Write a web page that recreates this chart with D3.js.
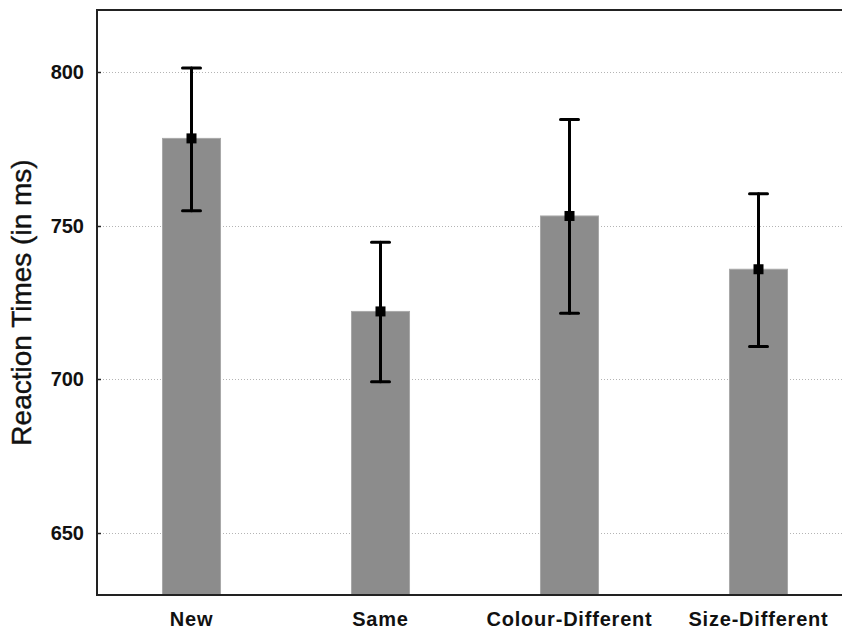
<!DOCTYPE html>
<html>
<head>
<meta charset="utf-8">
<script src="https://cdn.jsdelivr.net/npm/d3@7"></script>
<style>
  body { margin: 0; background: #fff; }
  svg { display: block; font-family: "Liberation Sans", Arial, sans-serif; }
</style>
</head>
<body>
<div id="chart"></div>
<script>
// Data
const categories = ["New", "Same", "Colour-Different", "Size-Different"];
const means = [778.3, 722.1, 753.1, 735.8];
const upper = [801.2, 744.6, 784.4, 760.3];
const lower = [754.8, 699.3, 721.5, 710.7];
const yTicks = [650, 700, 750, 800];

const width = 842;
const height = 631;
const margin = { top: 10, left: 97 };
const plotRight = 853;   // plot frame runs past the window edge
const plotBottom = 595;

const svg = d3.select("#chart").append("svg")
    .attr("width", width)
    .attr("height", height);

const x = d3.scaleBand()
    .domain(categories)
    .range([margin.left, plotRight])
    .paddingInner(0.693)
    .paddingOuter(0.3465);

const y = d3.scaleLinear()
    .domain([630, 820])
    .range([plotBottom, margin.top]);

// Dotted grid lines (behind bars)
svg.append("g")
    .selectAll("line")
    .data(yTicks)
    .enter()
    .append("line")
    .attr("x1", margin.left)
    .attr("x2", plotRight)
    .attr("y1", d => Math.round(y(d)) + 0.5)
    .attr("y2", d => Math.round(y(d)) + 0.5)
    .attr("stroke", "#b4b4b4")
    .attr("stroke-width", 1)
    .attr("stroke-dasharray", "1,2");

// Bars
const data = categories.map((c, i) => ({ c, m: means[i], hi: upper[i], lo: lower[i] }));

svg.append("g")
    .selectAll("rect")
    .data(data)
    .enter()
    .append("rect")
    .attr("x", d => x(d.c))
    .attr("y", d => y(d.m))
    .attr("width", x.bandwidth())
    .attr("height", d => plotBottom - y(d.m))
    .attr("fill", "#8c8c8c")
    .attr("stroke", "#a8a8a8")
    .attr("stroke-width", 1);

// Error bars
const err = svg.append("g")
    .attr("stroke", "#000")
    .attr("stroke-width", 3)
    .attr("stroke-linecap", "round");

const cx = d => x(d.c) + x.bandwidth() / 2;

err.selectAll(".whisker")
    .data(data)
    .enter()
    .append("line")
    .attr("x1", cx).attr("x2", cx)
    .attr("y1", d => y(d.hi))
    .attr("y2", d => y(d.lo));

err.selectAll(".capHi")
    .data(data)
    .enter()
    .append("line")
    .attr("x1", d => cx(d) - 9).attr("x2", d => cx(d) + 9)
    .attr("y1", d => y(d.hi)).attr("y2", d => y(d.hi));

err.selectAll(".capLo")
    .data(data)
    .enter()
    .append("line")
    .attr("x1", d => cx(d) - 9).attr("x2", d => cx(d) + 9)
    .attr("y1", d => y(d.lo)).attr("y2", d => y(d.lo));

svg.append("g")
    .selectAll("rect")
    .data(data)
    .enter()
    .append("rect")
    .attr("x", d => cx(d) - 5)
    .attr("y", d => y(d.m) - 5)
    .attr("width", 10)
    .attr("height", 10)
    .attr("fill", "#000");

// Frame: left, top, bottom
svg.append("path")
    .attr("d", `M${plotRight},${margin.top}H${margin.left}V${plotBottom}H${plotRight}`)
    .attr("fill", "none")
    .attr("stroke", "#222")
    .attr("stroke-width", 2);

// Y ticks and labels
svg.append("g")
    .selectAll("line")
    .data(yTicks)
    .enter()
    .append("line")
    .attr("x1", margin.left)
    .attr("x2", margin.left + 4)
    .attr("y1", d => Math.round(y(d)) + 0.5)
    .attr("y2", d => Math.round(y(d)) + 0.5)
    .attr("stroke", "#222")
    .attr("stroke-width", 1.5);

svg.append("g")
    .selectAll("text")
    .data(yTicks)
    .enter()
    .append("text")
    .attr("x", 84)
    .attr("y", d => y(d) + 7)
    .attr("text-anchor", "end")
    .attr("font-size", 20)
    .attr("font-weight", "bold")
    .attr("fill", "#111")
    .text(d => d);

// X category labels
svg.append("g")
    .selectAll("text")
    .data(categories)
    .enter()
    .append("text")
    .attr("x", d => x(d) + x.bandwidth() / 2)
    .attr("y", 626)
    .attr("text-anchor", "middle")
    .attr("font-size", 20)
    .attr("font-weight", "bold")
    .attr("letter-spacing", 0.8)
    .attr("fill", "#111")
    .text(d => d);

// Y axis title
svg.append("text")
    .attr("transform", `translate(31,${(margin.top + plotBottom) / 2}) rotate(-90)`)
    .attr("text-anchor", "middle")
    .attr("font-size", 28)
    .attr("fill", "#111")
    .attr("stroke", "#111")
    .attr("stroke-width", 0.4)
    .text("Reaction Times (in ms)");
</script>
</body>
</html>
